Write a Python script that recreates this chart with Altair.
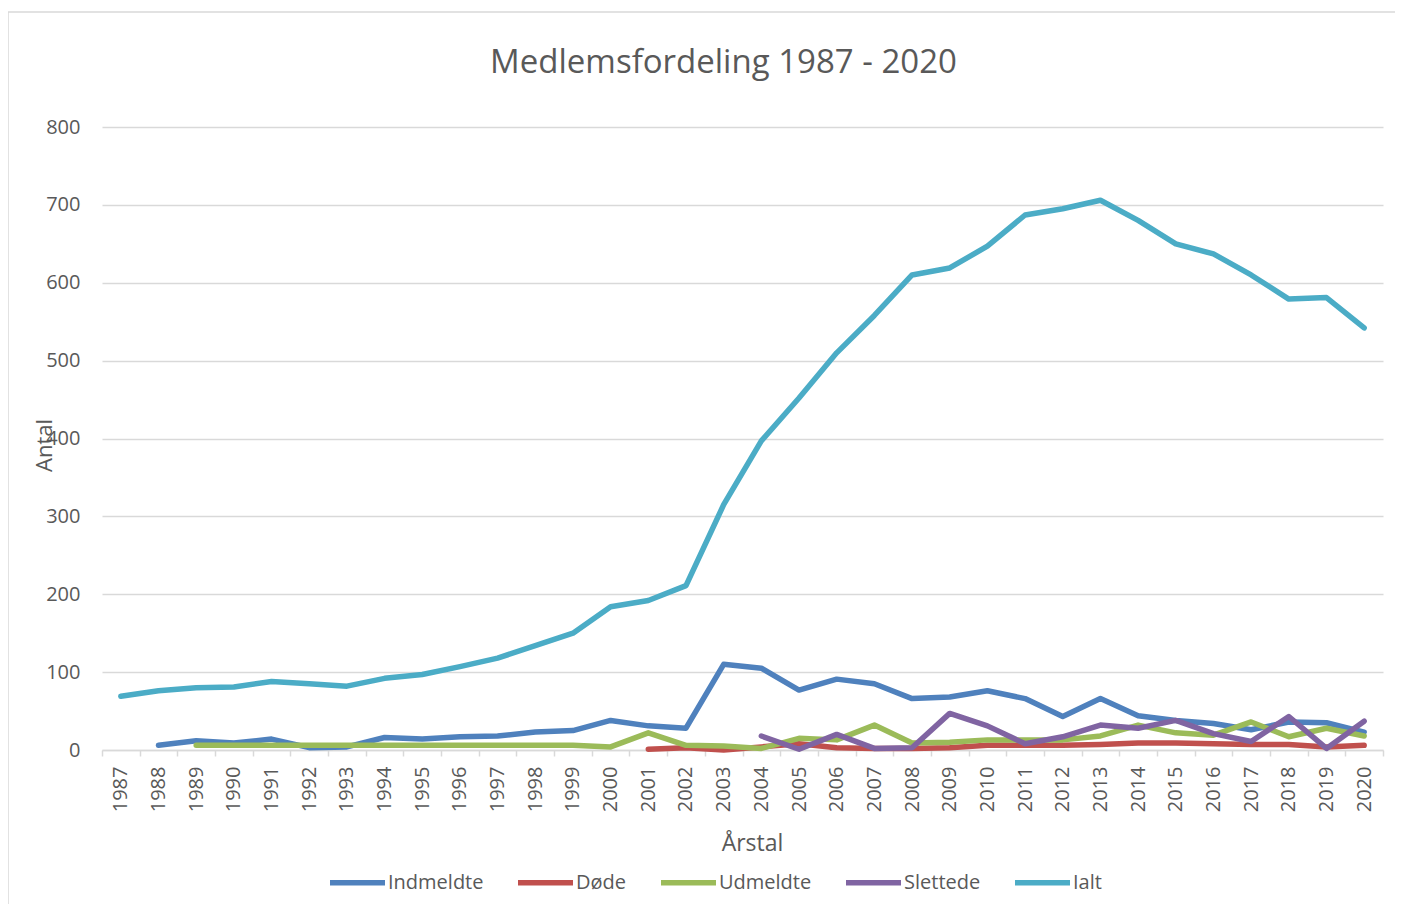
import altair as alt
import pandas as pd

years = list(range(1987, 2021))

indmeldte = [None, 6, 12, 9, 14, 3, 4, 16, 14, 17, 18, 23, 25, 38, 31, 28, 110, 105,
             77, 91, 85, 66, 68, 76, 66, 43, 66, 44, 38, 34, 26, 36, 35, 23]
doede = [None] * 14 + [1, 3, 0, 4, 8, 3, 2, 2, 3, 6, 6, 6, 7, 9, 9, 8, 7, 7, 4, 6]
udmeldte = [None, None] + [6] * 11 + [4, 22, 6, 5, 2, 15, 13, 32, 9, 10, 13, 13, 13, 18,
                                      32, 22, 19, 36, 17, 28, 18]
slettede = [None] * 17 + [18, 1, 20, 2, 3, 47, 31, 8, 17, 32, 28, 38, 21, 11, 43, 2, 37]
ialt = [69, 76, 80, 81, 88, 85, 82, 92, 97, 107, 118, 134, 150, 184, 192, 211, 315, 397,
        452, 510, 558, 610, 619, 647, 687, 695, 706, 680, 650, 637, 610, 579, 581, 542]

series_names = ["Indmeldte", "Døde", "Udmeldte", "Slettede", "Ialt"]
series_colors = ["#4F81BD", "#C0504D", "#9BBB59", "#8064A2", "#4BACC6"]
y_ticks = [0, 100, 200, 300, 400, 500, 600, 700, 800]

rows = []
for name, vals in zip(series_names, [indmeldte, doede, udmeldte, slettede, ialt]):
    for yr, v in zip(years, vals):
        if v is not None:
            rows.append({"year": str(yr), "serie": name, "antal": v})
df = pd.DataFrame(rows)

FONT = "Open Sans"
GRAY = "#595959"
GRID = "#d9d9d9"

border = alt.Chart(pd.DataFrame({"k": [0]})).mark_rect(
    fillOpacity=0, stroke=GRID, strokeWidth=1.5, clip=False
).encode(
    x=alt.value(-94), x2=alt.value(1330), y=alt.value(-115), y2=alt.value(820)
)

lines = alt.Chart(df).mark_line(
    strokeWidth=5.5, strokeCap="round", strokeJoin="round"
).encode(
    x=alt.X(
        "year:O",
        bandPosition=0.5,
        scale=alt.Scale(type="band", paddingInner=0, paddingOuter=0,
                        domain=[str(y) for y in years]),
        axis=alt.Axis(
            title="Årstal", labelAngle=270, labelFontSize=20, labelFont=FONT,
            labelColor=GRAY, tickBand="extent", tickColor=GRID, tickSize=6,
            tickWidth=1.5, domainColor=GRID, domainWidth=1.5, grid=False,
            labelPadding=10, titleFontSize=23, titleFont=FONT, titleColor=GRAY,
            titleFontWeight="normal", titleX=650, titleY=93,
            titleBaseline="middle", titleAlign="center",
        ),
    ),
    y=alt.Y(
        "antal:Q",
        scale=alt.Scale(domain=[0, 800], nice=False),
        axis=alt.Axis(
            title="Antal", values=y_ticks, grid=True, gridColor=GRID, gridWidth=1.5,
            domain=False, ticks=False, labelFontSize=20, labelFont=FONT,
            labelColor=GRAY, labelPadding=22, titleFontSize=22, titleFont=FONT,
            titleColor=GRAY, titleFontWeight="normal", titleX=-58, titleY=318,
            titleAngle=270, titleBaseline="middle", titleAlign="center",
        ),
    ),
    color=alt.Color(
        "serie:N",
        scale=alt.Scale(domain=series_names, range=series_colors),
        legend=alt.Legend(
            title=None, orient="none", legendX=225, legendY=725,
            direction="horizontal", symbolType="stroke", symbolSize=3025,
            symbolStrokeWidth=5.5, labelFontSize=20, labelFont=FONT,
            labelColor=GRAY, columnPadding=23, labelOffset=0,
        ),
    ),
)

chart = alt.layer(border, lines).properties(
    width=1281,
    height=623,
    autosize=alt.AutoSizeParams(type="none"),
    padding={"left": 94, "top": 119, "right": 12, "bottom": 154},
    title=alt.TitleParams(
        "Medlemsfordeling 1987 - 2020", fontSize=33, font=FONT, color=GRAY,
        fontWeight="normal", anchor="middle", dx=-19, dy=73,
    ),
).configure_view(strokeWidth=0)

chart.save("out.html", embed_options={"renderer": "svg", "actions": False})
